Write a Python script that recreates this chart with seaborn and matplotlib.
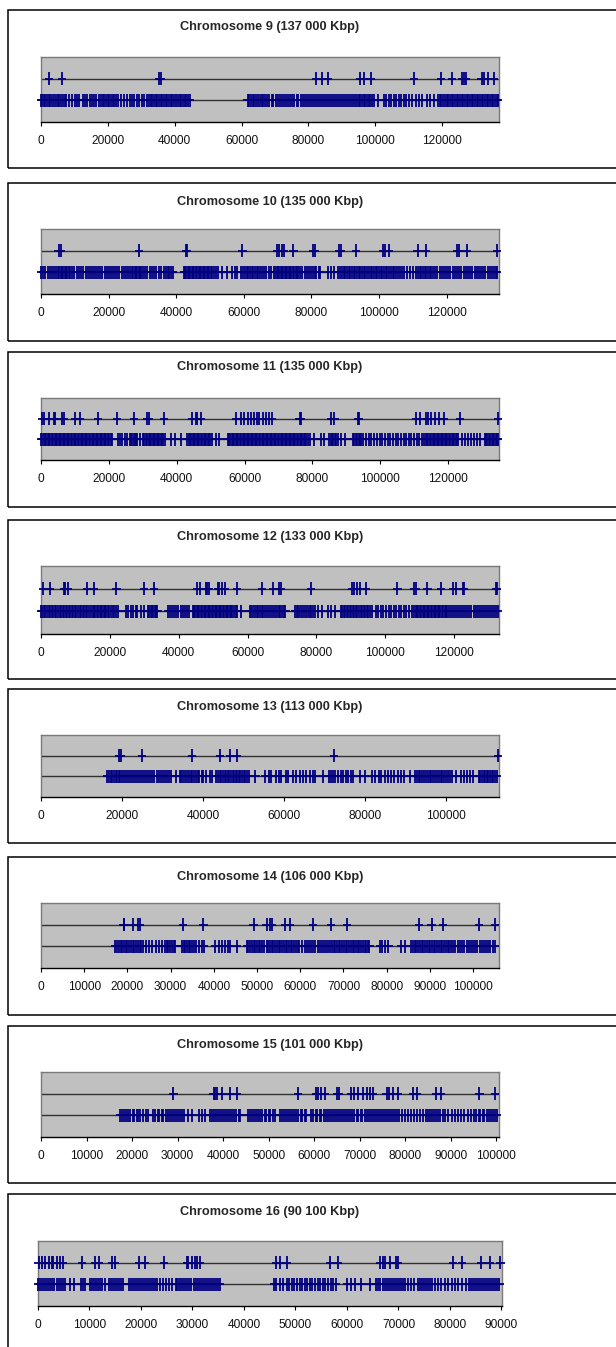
"""
Marker positions along chromosomes 9-16 (two rows per chromosome),
drawn as stacked Excel-style strip charts.
"""

import pandas as pd
import matplotlib
matplotlib.use("Agg")
import matplotlib.pyplot as plt
from matplotlib.patches import Rectangle
from matplotlib.path import Path
from matplotlib.markers import MarkerStyle
from matplotlib.ticker import MultipleLocator, StrMethodFormatter
import seaborn as sns

# ---- data (positions in Kbp) -------------------------------------------
chromosomes = [9, 10, 11, 12, 13, 14, 15, 16]
titles = [
    "Chromosome 9 (137 000 Kbp)",
    "Chromosome 10 (135 000 Kbp)",
    "Chromosome 11 (135 000 Kbp)",
    "Chromosome 12 (133 000 Kbp)",
    "Chromosome 13 (113 000 Kbp)",
    "Chromosome 14 (106 000 Kbp)",
    "Chromosome 15 (101 000 Kbp)",
    "Chromosome 16 (90 100 Kbp)",
]
axis_max_kb = [137.0, 135.5, 135.0, 133.0, 113.0, 106.0, 100.6, 90.1]
tick_step = [20000, 20000, 20000, 20000, 20000, 10000, 10000, 10000]

upper_9 = [2.5, 6.3, 35.3, 35.9, 82.3, 84.1, 85.8, 95.5, 96.5, 98.6, 111.6,
           119.6, 123.0, 126.0, 126.4, 127.0, 131.8, 132.5, 133.6, 135.6]
lower_9 = [
    0.0, 0.4, 0.9, 1.3, 1.9, 2.4, 2.8, 3.4, 3.9, 4.6, 5.1, 5.5, 6.1, 6.6, 7.1, 7.6,
    8.4, 9.3, 10.1, 10.7, 11.4, 12.6, 13.1, 13.7, 14.6, 15.3, 15.9, 16.6, 17.3,
    17.9, 18.4, 18.9, 19.4, 19.9, 20.4, 20.9, 21.4, 21.9, 22.4,
    23.1, 24.0, 24.8, 25.6, 26.5, 27.1, 27.7, 28.6, 29.4, 30.3, 30.9, 31.6,
    32.3, 32.8, 33.3, 33.8, 34.3, 34.8, 35.3, 35.8, 36.3, 36.8, 37.3, 37.8, 38.3, 38.8, 39.3,
    39.9, 40.5, 41.0, 41.5, 42.0, 42.5, 43.0, 43.5, 44.0, 44.6,
    61.8, 62.3, 62.8, 63.3, 63.8, 64.3, 64.8, 65.4, 66.0, 66.5, 67.0, 67.6, 68.3, 69.0,
    69.5, 70.2, 70.8, 71.5, 72.0, 72.6, 73.3, 74.0, 74.5, 75.2, 75.8, 76.5, 77.0, 77.8,
    78.5, 79.0, 79.6, 80.2, 80.8, 81.5, 82.0, 82.6, 83.2, 83.8, 84.4, 85.0, 85.5, 86.0,
    86.6, 87.2, 87.8, 88.4, 89.0, 89.6, 90.2, 90.8, 91.4, 92.0, 92.6, 93.2, 93.8, 94.4,
    95.0, 95.5, 96.0, 96.5, 97.0, 97.5, 98.0, 98.5, 99.0, 99.6,
    100.8, 102.5, 103.2, 104.0, 104.8, 105.5, 106.2, 107.0, 107.8, 108.5, 109.3, 110.0,
    111.0, 112.2, 113.0, 114.0, 115.5, 116.3, 117.5,
    118.8, 119.3, 119.8, 120.3, 120.8, 121.3, 121.8, 122.3, 122.8, 123.3, 123.8, 124.3,
    124.8, 125.3, 125.8, 126.3, 126.8, 127.3, 127.8, 128.3, 128.8, 129.3, 129.8, 130.3,
    130.8, 131.3, 131.8, 132.3, 132.8, 133.3, 133.8, 134.3, 134.8, 135.3, 135.8, 136.3, 136.8,
]

upper_10 = [5.2, 6.0, 28.9, 42.9, 43.3, 59.6, 69.8, 70.5, 71.2, 71.9, 74.7, 80.6,
            81.1, 88.3, 88.8, 93.2, 101.1, 101.8, 103.0, 111.4, 113.9, 123.0,
            123.7, 125.9, 135.0]
lower_10 = [
    0.0, 0.7, 1.3, 2.0, 2.6, 3.3, 3.9, 4.5, 5.0, 5.4, 5.8, 6.2, 6.6, 7.0, 7.4, 7.8,
    8.2, 8.7, 9.2, 9.9, 10.6, 11.2, 11.9, 12.5, 13.2, 13.8, 14.4, 15.0, 15.6, 16.3,
    16.9, 17.5, 18.1, 18.8, 19.4, 20.0, 20.7, 21.3, 21.9, 22.6, 23.2, 23.9, 24.5,
    25.1, 25.8, 26.4, 26.9, 27.3, 27.7, 28.1, 28.5, 28.9, 29.3, 29.7, 30.2, 30.8,
    31.5, 32.1, 32.8, 33.4, 34.1, 34.8, 35.6, 36.3, 37.0, 37.5, 38.0, 38.5, 39.0,
    42.2, 42.6, 43.0, 43.4, 43.8, 44.2, 44.6, 45.0, 45.4, 45.8, 46.2, 46.6, 47.0,
    47.4, 47.8, 48.2, 48.6, 49.0, 49.4, 49.8, 50.2, 50.7, 51.2, 51.7, 52.3,
    53.6, 54.9, 56.4, 57.3, 58.1,
    59.3, 59.8, 60.3, 60.8, 61.3, 61.8, 62.3, 62.8, 63.3, 63.8, 64.3, 64.8, 65.4,
    66.0, 66.6, 67.5, 68.1,
    68.9, 69.3, 69.7, 70.1, 70.5, 70.9, 71.3, 71.7, 72.1, 72.5, 72.9, 73.3, 73.7,
    74.1, 74.5, 74.9, 75.3, 75.7, 76.1, 76.6, 77.1,
    78.0, 78.6, 79.3, 80.0, 80.5, 81.0, 81.5, 82.1, 82.6,
    84.8, 85.9, 86.8,
    88.0, 88.5, 89.0, 89.5, 90.0, 90.5, 91.0, 91.5, 92.0, 92.5, 93.0, 93.5, 94.0,
    94.5, 95.0, 95.5, 96.0, 96.5, 97.0, 97.5, 98.0, 98.5, 99.0, 99.5, 100.0, 100.5,
    101.0, 101.5, 102.0, 102.5, 103.0, 103.5, 104.0, 104.5, 105.0, 105.5, 106.1, 106.7,
    107.5, 108.4, 109.2, 110.1,
    111.0, 111.5, 112.0, 112.5, 113.0, 113.5, 114.0, 114.5, 115.0, 115.5, 116.0, 116.5,
    117.2, 117.9, 118.5, 119.2, 119.8, 120.5, 121.1, 121.8, 122.4, 123.1, 123.7, 124.4,
    125.0, 125.7, 126.3, 127.0, 127.6, 128.3, 128.9, 129.6, 130.2, 130.9, 131.5, 132.2,
    132.8, 133.5, 134.0, 134.5, 134.9,
]

upper_11 = [0.3, 0.9, 2.3, 3.7, 4.2, 6.2, 6.7, 10.1, 11.6, 16.8, 22.4, 27.4, 31.3,
            31.8, 36.3, 44.6, 45.6, 46.1, 47.1, 57.4, 58.9, 59.7, 60.9, 61.9, 62.9,
            63.7, 64.3, 65.3, 66.3, 67.3, 68.0, 76.2, 76.5, 85.4, 86.5, 93.4, 93.7,
            110.6, 111.6, 113.6, 114.1, 115.1, 116.1, 117.2, 118.8, 123.4, 134.8]
lower_11 = [
    0.0, 0.4, 0.8, 1.2, 1.6, 2.0, 2.4, 2.8, 3.2, 3.6, 4.0, 4.4, 4.8, 5.2, 5.6, 6.0,
    6.4, 6.8, 7.2, 7.6, 8.0, 8.4, 8.8, 9.2, 9.6, 10.0, 10.4, 10.8, 11.2,
    11.7, 12.1, 12.5, 12.9, 13.3, 13.7, 14.1, 14.5, 14.9, 15.3, 15.7, 16.1, 16.5,
    16.9, 17.3, 17.7, 18.1, 18.5, 18.9, 19.3, 19.7, 20.1, 20.5, 20.9,
    22.6, 23.3, 24.0, 24.8, 25.4,
    26.1, 26.5, 26.9, 27.3, 27.7, 28.1, 28.4, 29.3,
    30.1, 30.5, 30.9, 31.3, 31.7, 32.1, 32.5, 32.9, 33.3, 33.7, 34.1, 34.5, 34.9,
    35.3, 35.7, 36.1, 36.6,
    38.2, 39.6, 41.3,
    43.1, 43.5, 43.9, 44.3, 44.7, 45.1, 45.5, 45.9, 46.3, 46.7, 47.1, 47.5, 47.9,
    48.3, 48.7, 49.1, 49.5, 49.9, 50.4,
    51.6, 52.6,
    55.0, 55.4, 55.8, 56.2, 56.6, 57.0, 57.4, 57.8, 58.2, 58.6, 59.0, 59.4, 59.8,
    60.2, 60.6, 61.0, 61.4, 61.8, 62.2, 62.6, 63.0, 63.4, 63.8, 64.2, 64.6, 65.0,
    65.4, 65.8, 66.2, 66.6, 67.0, 67.4, 67.8, 68.2, 68.6, 69.0, 69.4, 69.8, 70.2,
    70.6, 71.0, 71.4, 71.8, 72.2, 72.6, 73.0, 73.4, 73.8, 74.2, 74.6, 75.0, 75.4,
    75.8, 76.2, 76.6, 77.0, 77.4, 77.8, 78.2, 78.6,
    79.3, 80.6, 82.4, 83.3,
    85.0, 85.4, 85.8, 86.2, 86.6, 87.0, 87.4, 88.4, 89.7,
    92.0, 92.4, 92.8, 93.2, 93.6, 94.0, 94.4, 94.9,
    95.8, 96.6, 97.3, 98.3, 99.0, 99.8, 100.6, 101.3, 102.2, 103.0, 103.7, 104.5,
    105.3, 106.1, 106.9, 107.6, 108.5, 109.2, 110.0, 110.8, 111.5, 112.3,
    113.0, 113.4, 113.8, 114.2, 114.6, 115.0, 115.4, 115.8, 116.2, 116.6, 117.0,
    117.4, 117.8, 118.2, 118.6, 119.0, 119.4, 119.8, 120.2, 120.6, 121.0, 121.4,
    121.8, 122.2, 122.6, 123.0,
    124.2, 125.0, 125.8, 126.7, 127.5, 128.4, 129.3,
    130.8, 131.2, 131.6, 132.0, 132.4, 132.8, 133.2, 133.6, 134.0, 134.4, 134.8,
]

upper_12 = [0.5, 2.7, 6.6, 7.1, 7.9, 13.4, 15.3, 21.9, 29.9, 32.8, 45.4, 46.2, 47.9,
            48.3, 48.8, 51.3, 51.8, 52.7, 53.4, 56.9, 64.2, 67.3, 69.2, 69.7, 78.4,
            90.3, 91.0, 91.7, 92.5, 94.4, 103.5, 108.3, 109.0, 112.2, 116.1, 119.7,
            120.4, 122.6, 122.9, 132.1, 132.5]
lower_12 = [
    0.0, 0.4, 0.9, 1.3, 1.8, 2.2, 2.7, 3.1, 3.6, 4.0, 4.5, 4.9, 5.4, 5.8, 6.3, 6.7,
    7.2, 7.6, 8.1, 8.5, 9.0, 9.4, 9.9, 10.3, 10.8, 11.2, 11.7, 12.1, 12.6, 13.0,
    13.5, 13.9,
    14.6, 15.0, 15.4, 15.8, 16.2, 16.6, 17.0, 17.4, 17.8, 18.2, 18.6, 19.0, 19.4,
    19.8, 20.2,
    20.8, 21.3, 21.8, 22.3,
    24.7, 25.4, 26.1, 26.8, 27.5, 28.0, 29.0, 30.0,
    31.0, 31.4, 31.8, 32.2, 32.6, 33.0, 33.4, 33.8,
    36.8, 37.4, 38.0, 38.7, 39.3, 39.9, 40.6, 41.2, 41.8, 42.4, 43.0,
    44.0, 44.4, 44.8, 45.2, 45.6, 46.0, 46.4, 46.8, 47.2, 47.6, 48.0, 48.4, 48.8,
    49.2, 49.6, 50.0, 50.4, 50.8, 51.2, 51.6, 52.0, 52.4, 52.8, 53.2, 53.6, 54.0,
    54.4, 54.8, 55.2, 55.6, 56.0, 56.5, 57.0, 58.2,
    60.6, 61.1, 61.6, 62.1, 62.6, 63.1, 63.6, 64.1, 64.6, 65.1, 65.7, 66.3, 66.9,
    67.5, 68.0, 68.5, 69.0, 69.5, 70.0, 70.5, 71.0,
    73.7, 74.2, 74.7, 75.2, 75.7, 76.3, 77.0, 77.5, 78.0, 78.5, 79.0, 79.6, 80.3,
    81.7, 83.2, 84.3, 85.5,
    87.0, 87.4, 87.9, 88.3, 88.8, 89.2, 89.7, 90.1, 90.6, 91.0, 91.5, 91.9, 92.4,
    92.8, 93.3, 93.7, 94.2, 94.6, 95.1, 95.5, 96.0,
    97.2, 97.9, 98.7, 99.4, 100.2, 101.0, 101.7, 102.4, 103.2, 103.9, 104.6, 105.4,
    106.1, 106.9, 107.6, 108.3,
    108.8, 109.2, 109.6, 110.0, 110.4, 110.8, 111.2, 111.6, 112.0, 112.4, 112.8,
    113.2, 113.6, 114.0, 114.4, 114.8, 115.2, 115.6, 116.0, 116.4, 116.8, 117.2,
    117.6, 118.0, 118.4,
    119.0, 119.6, 120.2, 120.8, 121.4, 122.0, 122.6, 123.2, 123.8, 124.4, 125.0,
    125.6, 126.2, 126.8, 127.4, 128.0, 128.6, 129.2, 129.8, 130.4, 131.0, 131.6,
    132.2, 132.7,
]

upper_13 = [19.3, 19.7, 24.9, 37.3, 44.2, 46.7, 48.4, 72.2, 112.7]
lower_13 = [
    16.4, 16.8, 17.2, 17.6, 18.0, 18.4, 18.8, 19.2, 19.6, 20.0, 20.4,
    21.0, 21.5, 22.0, 22.5, 23.0, 23.5, 24.0, 24.5, 25.0, 25.5, 26.0, 26.5, 27.0,
    27.5, 28.0, 28.5, 29.0, 29.5, 30.0, 30.5, 31.0, 31.5, 32.0,
    33.3,
    34.2, 34.6, 35.1, 35.5, 36.0, 36.4, 36.9, 37.3, 37.8, 38.2, 38.7, 39.1, 39.6, 40.0,
    40.8, 41.6, 42.3,
    43.3, 43.7, 44.1, 44.5, 44.9, 45.3, 45.7, 46.1, 46.5, 46.9, 47.3, 47.7, 48.0,
    48.4, 48.8, 49.2, 49.6, 50.0, 50.4, 50.8, 51.2,
    52.9,
    55.3, 56.2, 56.8, 57.9, 58.6, 59.3, 60.4, 61.0, 62.1, 63.0, 63.9, 64.7, 65.4,
    66.3, 67.0, 67.7,
    69.6,
    71.0, 71.5, 72.0, 72.6, 73.3, 74.0, 74.6, 75.2, 75.8, 76.4, 77.0,
    78.8, 80.0,
    81.6, 82.5, 83.3, 84.0, 84.8, 85.5, 86.4, 87.2, 88.0, 88.8, 89.6, 91.0,
    92.3, 92.7, 93.2, 93.6, 94.1, 94.5, 95.0, 95.4, 95.9, 96.3, 96.8, 97.2, 97.7,
    98.1, 98.6, 99.0, 99.5, 99.9, 100.4, 100.9, 101.4,
    102.5,
    103.6, 104.3, 105.0, 105.8, 106.6,
    108.0, 108.4, 108.8, 109.2, 109.6, 110.0, 110.4, 110.8, 111.2, 111.6, 112.0, 112.5,
]

upper_14 = [19.1, 19.3, 21.4, 22.4, 22.8, 32.8, 37.6, 49.2, 52.2, 52.9, 53.4, 56.5,
            57.6, 63.0, 67.1, 70.9, 87.5, 90.4, 93.1, 101.3, 105.1]
lower_14 = [
    17.2, 17.6, 18.0, 18.4, 18.8, 19.2, 19.6, 20.0, 20.4, 20.8, 21.2, 21.6, 22.0,
    22.4, 22.8, 23.2, 23.6,
    24.3, 25.0, 25.7, 26.5, 27.2, 28.0,
    28.7, 29.1, 29.5, 29.9, 30.3, 30.7, 31.0,
    32.6, 33.0, 33.4, 33.8, 34.2, 34.6, 35.0, 35.4, 35.8,
    36.5, 37.2, 37.8,
    40.2, 41.1, 41.8, 42.5, 43.2, 43.8, 45.4,
    47.6, 48.0, 48.4, 48.8, 49.2, 49.6, 50.0, 50.4, 50.8, 51.2, 51.5,
    52.2, 52.6, 53.0, 53.4, 53.8, 54.2, 54.6, 55.0, 55.4, 55.8, 56.2, 56.6, 57.0,
    57.4, 57.8, 58.2, 58.6, 59.0, 59.4, 59.8, 60.3,
    61.0, 61.5, 62.0, 62.5, 63.0, 63.5, 64.0, 64.5, 65.0, 65.5, 66.0, 66.5,
    66.9, 67.3, 67.7, 68.1, 68.5, 68.9, 69.3, 69.7, 70.1, 70.5, 70.9,
    71.3, 71.7, 72.1, 72.5, 72.9, 73.3, 73.7, 74.1, 74.5, 74.9, 75.3, 75.7, 76.0,
    78.4, 79.0, 79.7, 80.4, 83.4, 84.2,
    85.7, 86.1, 86.5, 86.9, 87.3, 87.7, 88.1, 88.5, 88.9, 89.3, 89.7, 90.1, 90.5,
    90.9, 91.3, 91.7, 92.1, 92.5, 92.9, 93.3, 93.7, 94.1, 94.5, 94.9, 95.3, 95.8,
    96.5, 97.0, 97.5, 98.0, 98.5, 99.0, 99.5, 100.0, 100.5, 101.0, 101.5, 102.0,
    102.5, 103.0, 103.5, 104.0, 104.5, 105.0,
]

upper_15 = [29.1, 37.9, 38.3, 38.6, 39.7, 41.5, 43.0, 56.4, 60.5, 60.9, 61.4, 62.4,
            65.1, 65.5, 68.2, 68.8, 69.7, 70.8, 71.5, 72.2, 73.0, 75.9, 76.5, 77.3,
            78.4, 81.7, 82.5, 86.8, 87.9, 96.3, 99.8]
lower_15 = [
    17.4, 17.8, 18.3, 18.7, 19.2, 19.6, 20.1, 20.5, 21.0, 21.4, 21.8,
    22.5, 23.0, 23.5,
    24.7, 25.1, 25.6, 26.0, 26.5, 26.9, 27.4, 27.8, 28.3, 28.7, 29.2, 29.6, 30.1,
    30.5, 31.0, 31.5,
    32.3, 33.2, 34.6, 35.3, 36.0,
    37.1, 37.5, 38.0, 38.4, 38.9, 39.3, 39.8, 40.2, 40.7, 41.1, 41.6, 42.0, 42.5,
    42.9, 43.4, 43.7,
    45.5, 45.9, 46.4, 46.8, 47.3, 47.7, 48.2, 48.6, 49.1, 49.5, 50.0, 50.4, 50.9, 51.4,
    52.5, 52.9, 53.4, 53.8, 54.3, 54.7, 55.2, 55.6, 56.1, 56.5, 57.0, 57.4, 57.9, 58.3,
    59.4, 59.8, 60.3, 60.7, 61.2, 61.6, 62.1, 62.5, 63.0, 63.4, 63.9, 64.3, 64.8,
    65.2, 65.7, 66.1, 66.6, 67.0, 67.5, 67.9, 68.4, 68.8, 69.3, 69.7, 70.2, 70.6,
    71.1, 71.5, 72.0, 72.4, 72.9, 73.3, 73.8, 74.2, 74.7, 75.1, 75.6, 76.0, 76.5,
    76.9, 77.4, 77.8, 78.3, 78.7, 79.2,
    80.0, 80.7, 81.3, 82.0, 82.6, 83.3, 84.0,
    84.6, 85.0, 85.5, 85.9, 86.4, 86.8, 87.3, 87.7, 88.2, 88.7,
    89.5, 90.2, 90.9, 91.5, 92.3, 93.0, 93.7, 94.4,
    95.2, 95.6, 96.1, 96.5, 97.0, 97.4, 97.9, 98.3, 98.8, 99.2, 99.7, 100.1,
]

upper_16 = [0.1, 0.8, 1.4, 2.1, 2.7, 3.0, 3.7, 4.3, 4.8, 8.5, 11.1, 11.8, 14.3, 15.0,
            19.7, 20.8, 24.4, 28.9, 29.2, 29.9, 30.5, 30.8, 31.4, 46.3, 47.0, 48.3,
            56.7, 58.3, 66.4, 66.9, 67.3, 68.3, 69.5, 69.9, 80.6, 82.4, 86.1, 87.7, 89.8]
lower_16 = [
    0.0, 0.4, 0.8, 1.2, 1.6, 2.0, 2.4, 2.8, 3.2, 3.6, 4.0, 4.4, 4.8, 5.2,
    6.2, 7.0, 8.4, 8.8, 9.2,
    10.1, 10.5, 10.9, 11.3, 11.7, 12.1, 12.4, 13.1,
    13.7, 14.1, 14.5, 14.9, 15.3, 15.7, 16.1, 16.5,
    17.6, 18.0, 18.4, 18.8, 19.2, 19.6, 20.0, 20.4, 20.8, 21.2, 21.6, 22.0, 22.4,
    22.8, 23.1,
    23.7, 24.3, 24.9, 25.5, 26.1, 26.7,
    27.0, 27.4, 27.8, 28.2, 28.6, 29.0, 29.4, 29.8, 30.2, 30.6, 31.0, 31.4, 31.8,
    32.2, 32.6, 33.0, 33.4, 33.8, 34.2, 34.6, 35.0, 35.4,
    45.8, 46.3, 46.9, 47.5,
    48.3, 48.8, 49.3, 49.8, 50.3, 50.8, 51.3, 51.8, 52.3, 52.8, 53.3, 53.8, 54.3,
    54.8, 55.3, 55.8, 56.3, 56.8, 57.3, 57.8,
    60.0, 60.8, 61.6, 62.8, 64.4,
    65.7, 66.1, 66.5, 66.9, 67.3, 67.7, 68.1, 68.5, 68.9, 69.3, 69.7, 70.1, 70.5,
    70.9, 71.2,
    71.8, 72.4, 73.0,
    73.8, 74.2, 74.6, 75.0, 75.4, 75.8, 76.2, 76.6, 77.0,
    77.6, 78.3, 79.0, 79.6, 80.3, 81.0, 81.6, 82.3,
    83.2, 83.6, 84.0, 84.4, 84.8, 85.2, 85.6, 86.0, 86.4, 86.8, 87.2, 87.6, 88.0,
    88.4, 88.8, 89.2, 89.6,
]

upper_rows = [upper_9, upper_10, upper_11, upper_12, upper_13, upper_14, upper_15, upper_16]
lower_rows = [lower_9, lower_10, lower_11, lower_12, lower_13, lower_14, lower_15, lower_16]

# ---- layout (pixels of the 616 x 1347 picture) -------------------------
W, H = 616, 1347
boxes = [(10, 168), (183, 341), (352, 507), (520, 679),
         (689, 843), (857, 1015), (1026, 1183), (1194, 1365)]
plot_areas = [(41, 499, 57, 122), (41, 499, 229, 294), (41, 499, 398, 460),
              (41, 499, 566, 634), (41, 499, 735, 797), (41, 499, 903, 968),
              (41, 499, 1072, 1137), (38, 502, 1241, 1306)]
title_y = [27, 202, 367, 537, 707, 877, 1045, 1212]

NAVY = "#000080"
GREY_BG = "#C0C0C0"

sns.set_theme(style="white")
plt.rcParams["font.family"] = ["Liberation Sans", "DejaVu Sans"]

# Excel-style "+" marker: taller than wide
plus_path = Path([(0, -1), (0, 1), (-0.62, 0), (0.62, 0)],
                 [Path.MOVETO, Path.LINETO, Path.MOVETO, Path.LINETO])
plus_marker = MarkerStyle(plus_path, fillstyle="none")

fig = plt.figure(figsize=(W / 100, H / 100), dpi=100)
fig.patch.set_facecolor("white")

for i, chrom in enumerate(chromosomes):
    top, bottom = boxes[i]
    fig.add_artist(Rectangle((8 / W, 1 - bottom / H), (W + 10) / W, (bottom - top) / H,
                             transform=fig.transFigure, fill=False,
                             edgecolor="black", linewidth=1.1))

    x0, x1, y0, y1 = plot_areas[i]
    ax = fig.add_axes([x0 / W, 1 - y1 / H, (x1 - x0) / W, (y1 - y0) / H])
    ax.set_facecolor(GREY_BG)

    df = pd.DataFrame({
        "pos": [p * 1000 for p in upper_rows[i]] + [p * 1000 for p in lower_rows[i]],
        "row": [2] * len(upper_rows[i]) + [1] * len(lower_rows[i]),
    })

    ax.axhline(2, color="#303030", linewidth=1.0, zorder=2)
    ax.axhline(1, color="#303030", linewidth=1.0, zorder=2)
    sns.scatterplot(data=df, x="pos", y="row", marker=plus_marker, s=92,
                    color=NAVY, linewidth=1.3, legend=False, ax=ax,
                    clip_on=False, zorder=3)

    ax.set_xlim(0, axis_max_kb[i] * 1000)
    ax.set_ylim(0, 3)
    ax.set_xlabel("")
    ax.set_ylabel("")
    ax.set_yticks([])
    ax.xaxis.set_major_locator(MultipleLocator(tick_step[i]))
    ax.xaxis.set_major_formatter(StrMethodFormatter("{x:.0f}"))
    ax.tick_params(axis="x", bottom=True, direction="out", length=3.2, width=0.8,
                   color="black", pad=6.5, labelsize=8.6, labelcolor="#111111")

    for side in ["top", "left", "right"]:
        ax.spines[side].set_color("#7a7a7a")
        ax.spines[side].set_linewidth(1.0)
    ax.spines["bottom"].set_color("black")
    ax.spines["bottom"].set_linewidth(1.0)

    fig.text((x0 + x1) / 2 / W, 1 - title_y[i] / H, titles[i],
             ha="center", va="center", fontsize=9.2, fontweight="bold")

fig.savefig("out.png", dpi=100)
plt.close(fig)
